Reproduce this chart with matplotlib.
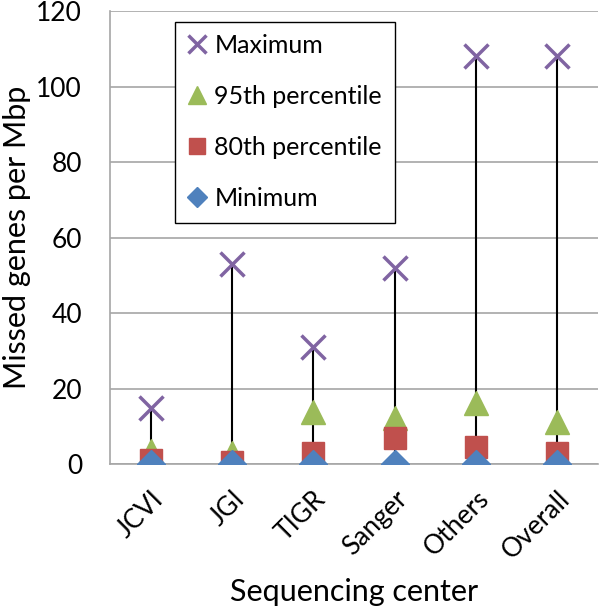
import matplotlib
matplotlib.use("Agg")
import matplotlib.pyplot as plt
import numpy as np

plt.rcParams['font.family'] = ['Lato', 'DejaVu Sans']

centers = ['JCVI', 'JGI', 'TIGR', 'Sanger', 'Others', 'Overall']
maximum = [15, 53, 31, 52, 108, 108]
pct95 = [3.5, 3, 13.8, 12.2, 16.2, 11.1]
pct80 = [1.1, 0.5, 2.9, 6.9, 4.5, 2.9]
minimum = [0, 0, 0, 0, 0, 0]

fig = plt.figure(figsize=(6, 6.1), dpi=100)
ax = fig.add_axes([0.183, 0.239, 0.814, 0.743])

x = np.arange(len(centers))

# high-low lines
ax.vlines(x, minimum, maximum, color='black', lw=1.5, zorder=2)

ax.plot(x, maximum, ls='none', marker='x', ms=17, mew=2.5, color='#8064A2', label='Maximum', zorder=3)
ax.plot(x, pct95, ls='none', marker='^', ms=17, color='#9BBB59', label='95th percentile', zorder=3)
ax.plot(x, pct80, ls='none', marker='s', ms=16, color='#C0504D', label='80th percentile', zorder=4)
ax.plot(x, minimum, ls='none', marker='D', ms=14, color='#4F81BD', label='Minimum', zorder=5)

ax.set_xlim(-0.5, len(centers) - 0.5)
ax.set_ylim(0, 120)
ax.set_yticks(range(0, 121, 20))
ax.set_xticks(x)
ax.set_xticklabels(centers, rotation=45, ha='right', rotation_mode='anchor')
ax.tick_params(axis='both', length=0, labelsize=19)
ax.tick_params(axis='y', pad=20)
ax.tick_params(axis='x', pad=16)

ax.grid(axis='y', color='#A6A6A6', lw=1.2, zorder=0)
ax.set_axisbelow(True)
for s in ['top', 'right']:
    ax.spines[s].set_visible(False)
for s in ['left', 'bottom']:
    ax.spines[s].set_color('#A6A6A6')
    ax.spines[s].set_linewidth(1.2)

ax.set_ylabel('Missed genes per Mbp', fontsize=22, labelpad=4)
ax.set_xlabel('Sequencing center', fontsize=22, labelpad=10)

leg = ax.legend(loc='upper left', bbox_to_anchor=(0.27, 0.985), bbox_transform=fig.transFigure,
                fontsize=18, frameon=True, fancybox=False, handlelength=0.8,
                handletextpad=0.3, labelspacing=1.12, borderpad=0.5, markerscale=0.75)
leg.get_frame().set_edgecolor('black')
leg.get_frame().set_linewidth(1.0)
leg.get_frame().set_alpha(1)

fig.savefig('out.png', dpi=100)
